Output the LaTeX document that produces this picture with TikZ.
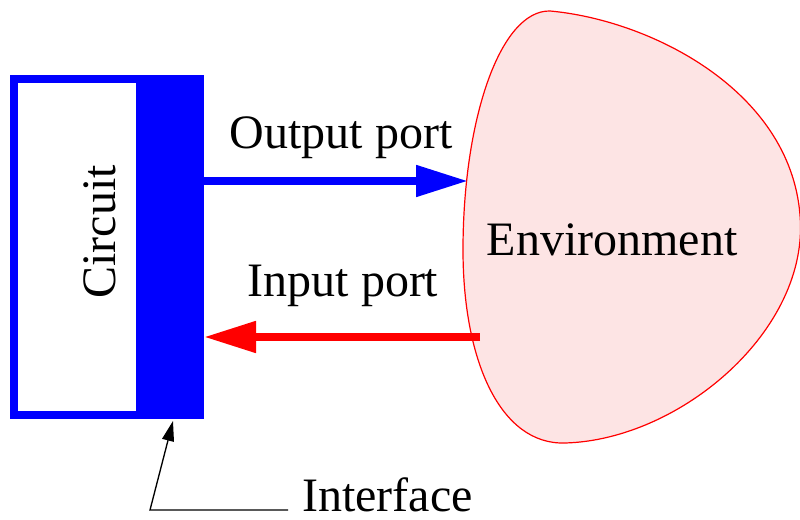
\documentclass[tikz,border=0pt]{standalone}
\usepackage{fontspec}
\setmainfont{Liberation Serif}
\usetikzlibrary{arrows.meta}
\definecolor{envfill}{RGB}{253,228,228}
\tikzset{
  lbl/.style={font=\fontsize{36}{40}\selectfont, inner sep=0pt, anchor=base},
  portline/.style={line width=6pt, -{Triangle[length=39pt,width=22.5pt]}},
}
\begin{document}
\begin{tikzpicture}[x=0.75pt,y=-0.75pt]
\useasboundingbox (0,0) rectangle (800,520);
% environment blob
\draw[red, line width=0.9pt, fill=envfill]
  (550,11) .. controls (650,20) and (790,90) .. (800,215)
  .. controls (810,330) and (680,440) .. (565,443)
  .. controls (500,445) and (463,360) .. (463,250)
  .. controls (463,120) and (500,10) .. (550,11) -- cycle;
\coordinate (envout) at (468,181);
\coordinate (envin) at (480,337);
% circuit
\node[draw=blue, line width=6pt, outer sep=0pt, minimum width=186*0.75pt, minimum height=336*0.75pt, inner sep=0pt, anchor=north west] (circuit) at (14,79) {};
\node[fill=blue, inner sep=0pt, outer sep=0pt, minimum width=68*0.75pt, minimum height=344*0.75pt, anchor=north west] (iface) at (136,75) {};
\node[lbl, rotate=90] (circlbl) at (115,232) {Circuit};
% ports
\draw[blue, portline] (iface.east |- envout) -- (envout);
\draw[red, portline] (envin) -- (iface.east |- envin);
\node[lbl] (outlbl) at (341,149) {Output port};
\node[lbl] (inlbl) at (343,297) {Input port};
\node[lbl] (envlbl) at (612,256) {Environment};
% interface label
\node[lbl, anchor=base west] (ifacelbl) at (302,511) {Interface};
\coordinate (bend) at (150,510);
\draw[black, line width=1pt, -{Triangle[length=15pt,width=9pt]}] (288,510) -- (bend) -- (173,421);
\end{tikzpicture}
\end{document}
